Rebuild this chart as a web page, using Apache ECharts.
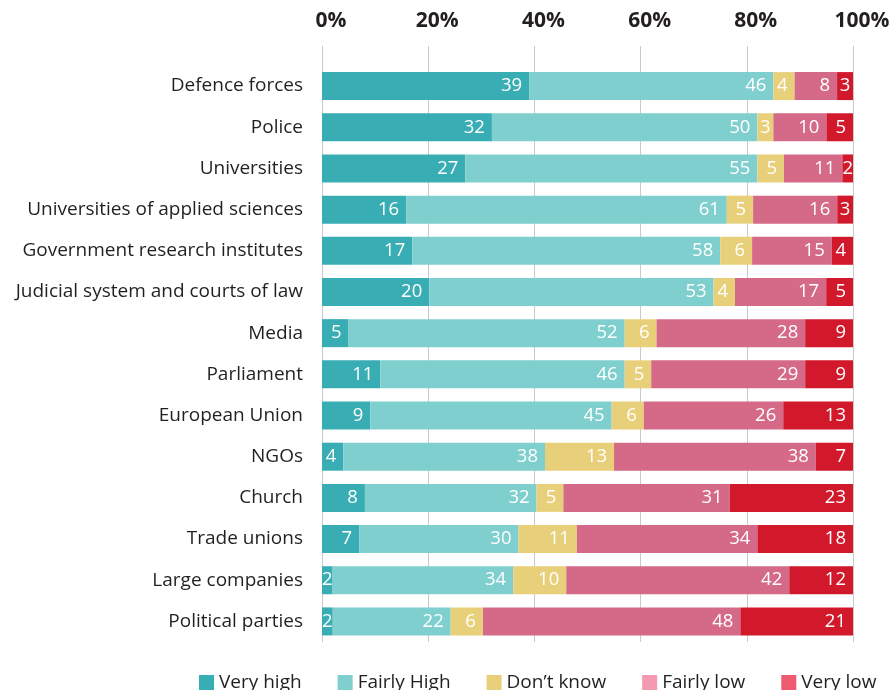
<!DOCTYPE html>
<html lang='en'>

  <head>
    <meta charset='utf-8'>
    <title>Trust in institutions</title>
    <style>
      html, body { margin: 0; padding: 0; background: #fff; }
    </style>
  </head>

  <body>

    <div id="main" style="width:896px;height:690px;"></div>

    <script src="https://cdn.jsdelivr.net/npm/echarts@6/dist/echarts.min.js"></script>

    <script>
      var categories = ['Defence forces', 'Police', 'Universities', 'Universities of applied sciences',
        'Government research institutes', 'Judicial system and courts of law', 'Media', 'Parliament',
        'European Union', 'NGOs', 'Church', 'Trade unions', 'Large companies', 'Political parties'];

      var veryHigh   = [39, 32, 27, 16, 17, 20, 5, 11, 9, 4, 8, 7, 2, 2];
      var fairlyHigh = [46, 50, 55, 61, 58, 53, 52, 46, 45, 38, 32, 30, 34, 22];
      var dontKnow   = [4, 3, 5, 5, 6, 4, 6, 5, 6, 13, 5, 11, 10, 6];
      var fairlyLow  = [8, 10, 11, 16, 15, 17, 28, 29, 26, 38, 31, 34, 42, 48];
      var veryLow    = [3, 5, 2, 3, 4, 5, 9, 9, 13, 7, 23, 18, 12, 21];

      var tickLabels = ['0%', '20%', '40%', '60%', '80%', '100%'];

      var seriesNames = ['Very high', 'Fairly High', 'Don\u2019t know', 'Fairly low', 'Very low'];
      var seriesData = [veryHigh, fairlyHigh, dontKnow, fairlyLow, veryLow];
      var barColors = ['#38adb4', '#80cfcf', '#e8d07a', '#d46a88', '#d2192b'];
      var legendColors = ['#38adb4', '#80cfcf', '#e8d07a', '#f49ab0', '#ef5a70'];

      // row totals (rounded values do not always add to 100), bars are scaled to full width
      var totals = categories.map(function(c, i) {
        var s = 0;
        seriesData.forEach(function(arr) { s += arr[i]; });
        return s;
      });

      var font = 'Open Sans';

      var series = seriesNames.map(function(name, k) {
        return {
          name: name,
          type: 'bar',
          stack: 'all',
          xAxisIndex: 0,
          yAxisIndex: 0,
          barWidth: 28,
          itemStyle: { color: barColors[k] },
          label: {
            show: true,
            position: 'insideRight',
            distance: 7,
            color: '#fff',
            fontFamily: font,
            fontSize: 18.5,
            formatter: function(p) { return seriesData[k][p.dataIndex]; }
          },
          emphasis: { disabled: true },
          data: seriesData[k].map(function(v, i) {
            var item = { value: v / totals[i] * 100 };
            // very thin segments: keep the number centred in the bar
            if (v < 4) item.label = { position: 'inside' };
            return item;
          })
        };
      });

      var myChart = echarts.init(document.getElementById('main'));

      var option = {
        backgroundColor: '#fff',
        animation: false,
        textStyle: { fontFamily: font },
        legend: {
          left: 194,
          top: 668,
          width: 720,
          itemWidth: 15,
          itemHeight: 15,
          itemGap: 36,
          icon: 'rect',
          textStyle: { fontFamily: font, fontSize: 19, color: '#231f20' },
          data: seriesNames.map(function(n, k) {
            return { name: n, itemStyle: { color: legendColors[k] } };
          })
        },
        grid: [
          { left: 322, right: 43, top: 65.5, bottom: 48 },
          { left: 322, right: 43, top: 46, bottom: 48 }
        ],
        xAxis: [
          { type: 'value', gridIndex: 0, min: 0, max: 100, show: false },
          {
            type: 'value',
            gridIndex: 1,
            position: 'top',
            min: 0,
            max: 100,
            interval: 20,
            axisLine: { show: false },
            axisTick: { show: false },
            splitLine: { show: true, lineStyle: { color: '#c5cbcb', width: 1 } },
            axisLabel: {
              margin: 14,
              fontFamily: font,
              fontWeight: 'bold',
              fontSize: 21,
              color: '#231f20',
              padding: [0, 0, 0, 18],
              formatter: function(v) { return tickLabels[v / 20]; }
            }
          }
        ],
        yAxis: [
          {
            type: 'category',
            gridIndex: 0,
            inverse: true,
            data: categories,
            axisLine: { show: false },
            axisTick: { show: false },
            axisLabel: { margin: 19, fontFamily: font, fontSize: 19, color: '#231f20' }
          },
          { type: 'value', gridIndex: 1, min: 0, max: 1, show: false }
        ],
        series: series
      };

      myChart.setOption(option);
    </script>

  </body>

</html>
